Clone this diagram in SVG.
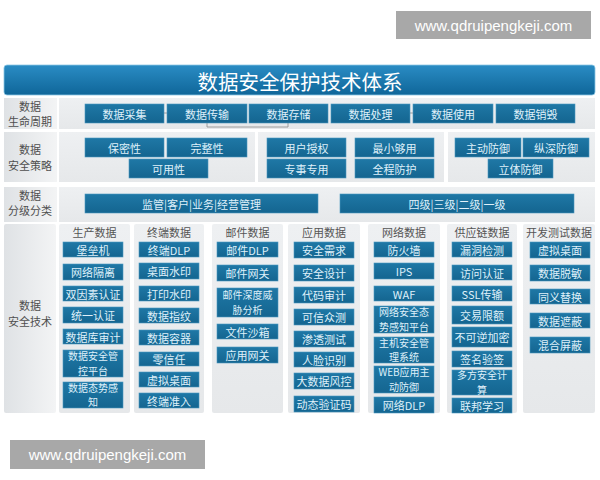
<svg xmlns="http://www.w3.org/2000/svg" width="600" height="480" viewBox="0 0 600 480">
<defs>
<linearGradient id="gTitle" x1="0" y1="0" x2="0" y2="1"><stop offset="0" stop-color="#2a8cc4"/><stop offset="1" stop-color="#0f6699"/></linearGradient>
<linearGradient id="gBox" x1="0" y1="0" x2="0" y2="1"><stop offset="0" stop-color="#1f78a6"/><stop offset="1" stop-color="#146590"/></linearGradient>
<linearGradient id="gLbl" x1="0" y1="0" x2="1" y2="0"><stop offset="0" stop-color="#dfe2e5"/><stop offset="1" stop-color="#f3f4f5"/></linearGradient>
<linearGradient id="gPanel" x1="0" y1="0" x2="0" y2="1"><stop offset="0" stop-color="#eef0f2"/><stop offset="1" stop-color="#e6e8ea"/></linearGradient>
</defs>
<style>
.box{fill:url(#gBox);stroke:#4a97c0;stroke-width:0.6}
.bt{font-family:"Noto Sans CJK SC","Noto Sans",sans-serif;font-size:11px;fill:#dff0fa;text-anchor:middle;dominant-baseline:central}
.b2{font-family:"Noto Sans CJK SC","Noto Sans",sans-serif;font-size:10px;fill:#dff0fa;text-anchor:middle}
.hd{font-family:"Noto Sans CJK SC",sans-serif;font-size:11px;fill:#555;text-anchor:middle;dominant-baseline:central}
.lb{font-family:"Noto Sans CJK SC",sans-serif;font-size:11px;fill:#4f4f4f;text-anchor:middle}
.lblbg{fill:url(#gLbl)}
.pnl{fill:url(#gPanel)}
.wm{fill:#a8a8a8}
.wmt{font-family:"Liberation Sans",Arial,sans-serif;font-size:15px;fill:#fff;text-anchor:middle;dominant-baseline:central}
.cn{fill:none;stroke:#8a8a8a;stroke-width:0.8}
</style>
<rect width="600" height="480" fill="#fff"/>

<g id="watermark-top"><rect class="wm" x="396" y="11" width="195" height="28"/><text class="wmt" x="493.5" y="25">www.qdruipengkeji.com</text></g>
<g id="watermark-bottom"><rect class="wm" x="10" y="440" width="195" height="29"/><text class="wmt" x="107.5" y="454.5">www.qdruipengkeji.com</text></g>

<g id="title"><rect x="4" y="65" width="591" height="30" rx="3" fill="url(#gTitle)" stroke="#8cc6e4" stroke-width="0.8"/><text x="300" y="80.5" font-family="Noto Sans CJK SC,sans-serif" font-size="20.5" fill="#fff" text-anchor="middle" dominant-baseline="central">数据安全保护技术体系</text></g>

<g id="row-backgrounds">
<rect class="lblbg" x="4" y="98" width="53" height="31"/><rect class="pnl" x="59" y="98" width="536" height="31"/>
<rect class="lblbg" x="4" y="132" width="53" height="50"/><rect class="pnl" x="59" y="132" width="196" height="50"/><rect class="pnl" x="258" y="132" width="186" height="50"/><rect class="pnl" x="448" y="132" width="147" height="50"/>
<rect class="lblbg" x="4" y="187" width="53" height="35"/><rect class="pnl" x="59" y="187" width="536" height="35"/>
<rect class="lblbg" x="4" y="224" width="52" height="189" rx="2"/>
<rect class="pnl" x="59" y="224" width="71" height="189" rx="2"/>
<rect class="pnl" x="134" y="224" width="70" height="189" rx="2"/>
<rect class="pnl" x="212" y="224" width="71" height="189" rx="2"/>
<rect class="pnl" x="288" y="224" width="72" height="189" rx="2"/>
<rect class="pnl" x="368" y="224" width="72" height="189" rx="2"/>
<rect class="pnl" x="447" y="224" width="70" height="189" rx="2"/>
<rect class="pnl" x="523" y="224" width="72" height="189" rx="2"/>
</g>

<g id="row-labels">
<text class="lb" x="30" y="111"><tspan x="30">数据</tspan><tspan x="30" dy="14.5">生命周期</tspan></text>
<text class="lb" x="30" y="154"><tspan x="30">数据</tspan><tspan x="30" dy="16">安全策略</tspan></text>
<text class="lb" x="30" y="200"><tspan x="30">数据</tspan><tspan x="30" dy="15">分级分类</tspan></text>
<text class="lb" x="30" y="310"><tspan x="30">数据</tspan><tspan x="30" dy="16">安全技术</tspan></text>
</g>

<g id="connectors">
<path class="cn" d="M164 113H167"/>
<path class="cn" d="M207 123V127H288V123"/>
<path class="cn" d="M410 113H413"/>
</g>

<g id="n-caiji"><rect class="box" x="85" y="104" width="79" height="19"/><text class="bt" x="124.5" y="113.5">数据采集</text></g>
<g id="n-chuanshu"><rect class="box" x="167" y="104" width="80" height="19"/><text class="bt" x="207" y="113.5">数据传输</text></g>
<g id="n-cunchu"><rect class="box" x="249" y="104" width="79" height="19"/><text class="bt" x="288.5" y="113.5">数据存储</text></g>
<g id="n-chuli"><rect class="box" x="331" y="104" width="79" height="19"/><text class="bt" x="370.5" y="113.5">数据处理</text></g>
<g id="n-shiyong"><rect class="box" x="413" y="104" width="80" height="19"/><text class="bt" x="453" y="113.5">数据使用</text></g>
<g id="n-xiaohui"><rect class="box" x="496" y="104" width="79" height="19"/><text class="bt" x="535.5" y="113.5">数据销毁</text></g>

<g id="n-baomi"><rect class="box" x="85" y="138" width="79" height="19"/><text class="bt" x="124.5" y="147.5">保密性</text></g>
<g id="n-wanzheng"><rect class="box" x="167" y="138" width="80" height="19"/><text class="bt" x="207" y="147.5">完整性</text></g>
<g id="n-keyong"><rect class="box" x="129" y="159" width="79" height="19"/><text class="bt" x="168.5" y="168.5">可用性</text></g>
<g id="n-yonghu"><rect class="box" x="267" y="138" width="79" height="19"/><text class="bt" x="306.5" y="147.5">用户授权</text></g>
<g id="n-zhuanshi"><rect class="box" x="267" y="159" width="79" height="19"/><text class="bt" x="306.5" y="168.5">专事专用</text></g>
<g id="n-zuixiao"><rect class="box" x="355" y="138" width="79" height="19"/><text class="bt" x="394.5" y="147.5">最小够用</text></g>
<g id="n-quancheng"><rect class="box" x="355" y="159" width="79" height="19"/><text class="bt" x="394.5" y="168.5">全程防护</text></g>
<g id="n-zhudong"><rect class="box" x="455" y="138" width="66" height="19"/><text class="bt" x="488" y="147.5">主动防御</text></g>
<g id="n-zongshen"><rect class="box" x="523" y="138" width="66" height="19"/><text class="bt" x="556" y="147.5">纵深防御</text></g>
<g id="n-liti"><rect class="box" x="488" y="159" width="65" height="19"/><text class="bt" x="520.5" y="168.5">立体防御</text></g>

<g id="n-jianguan"><rect class="box" x="85" y="194" width="233" height="19"/><text class="bt" x="201.5" y="203.5">监管|客户|业务|经营管理</text></g>
<g id="n-siji"><rect class="box" x="340" y="194" width="234" height="19"/><text class="bt" x="457" y="203.5">四级|三级|二级|一级</text></g>

<g id="col-headers">
<text class="hd" x="94.5" y="232">生产数据</text>
<text class="hd" x="169" y="232">终端数据</text>
<text class="hd" x="247.5" y="232">邮件数据</text>
<text class="hd" x="324" y="232">应用数据</text>
<text class="hd" x="404" y="232">网络数据</text>
<text class="hd" x="482" y="232">供应链数据</text>
<text class="hd" x="559" y="232">开发测试数据</text>
</g>

<g id="c1-1"><rect class="box" x="63" y="242" width="60" height="15"/><text class="bt" x="93" y="249.5">堡垒机</text></g>
<g id="c1-2"><rect class="box" x="63" y="264" width="60" height="16"/><text class="bt" x="93" y="272">网络隔离</text></g>
<g id="c1-3"><rect class="box" x="63" y="286" width="60" height="15"/><text class="bt" x="93" y="293.5">双因素认证</text></g>
<g id="c1-4"><rect class="box" x="63" y="307" width="60" height="16"/><text class="bt" x="93" y="315">统一认证</text></g>
<g id="c1-5"><rect class="box" x="63" y="329" width="60" height="15"/><text class="bt" x="93" y="336.5">数据库审计</text></g>
<g id="c1-6"><rect class="box" x="63" y="350" width="60" height="27"/><text class="b2" x="93" y="360"><tspan x="93">数据安全管</tspan><tspan x="93" dy="14.5">控平台</tspan></text></g>
<g id="c1-7"><rect class="box" x="63" y="382" width="60" height="26"/><text class="b2" x="93" y="391.5"><tspan x="93">数据态势感</tspan><tspan x="93" dy="14.5">知</tspan></text></g>

<g id="c2-1"><rect class="box" x="139" y="242" width="60" height="15"/><text class="bt" x="169" y="249.5">终端DLP</text></g>
<g id="c2-2"><rect class="box" x="139" y="263" width="60" height="16"/><text class="bt" x="169" y="271">桌面水印</text></g>
<g id="c2-3"><rect class="box" x="139" y="286" width="60" height="15"/><text class="bt" x="169" y="293.5">打印水印</text></g>
<g id="c2-4"><rect class="box" x="139" y="308" width="60" height="15"/><text class="bt" x="169" y="315.5">数据指纹</text></g>
<g id="c2-5"><rect class="box" x="139" y="330" width="60" height="15"/><text class="bt" x="169" y="337.5">数据容器</text></g>
<g id="c2-6"><rect class="box" x="139" y="352" width="60" height="14"/><text class="bt" x="169" y="359">零信任</text></g>
<g id="c2-7"><rect class="box" x="139" y="372" width="60" height="15"/><text class="bt" x="169" y="379.5">虚拟桌面</text></g>
<g id="c2-8"><rect class="box" x="139" y="393" width="60" height="15"/><text class="bt" x="169" y="400.5">终端准入</text></g>

<g id="c3-1"><rect class="box" x="217" y="242" width="61" height="15"/><text class="bt" x="247.5" y="249.5">邮件DLP</text></g>
<g id="c3-2"><rect class="box" x="217" y="265" width="61" height="16"/><text class="bt" x="247.5" y="273">邮件网关</text></g>
<g id="c3-3"><rect class="box" x="217" y="288" width="61" height="29"/><text class="b2" x="247.5" y="299"><tspan x="247.5">邮件深度威</tspan><tspan x="247.5" dy="14.5">胁分析</tspan></text></g>
<g id="c3-4"><rect class="box" x="217" y="324" width="61" height="15"/><text class="bt" x="247.5" y="331.5">文件沙箱</text></g>
<g id="c3-5"><rect class="box" x="217" y="347" width="61" height="16"/><text class="bt" x="247.5" y="355">应用网关</text></g>

<g id="c4-1"><rect class="box" x="294" y="242" width="60" height="16"/><text class="bt" x="324" y="250">安全需求</text></g>
<g id="c4-2"><rect class="box" x="294" y="265" width="60" height="16"/><text class="bt" x="324" y="273">安全设计</text></g>
<g id="c4-3"><rect class="box" x="294" y="287" width="60" height="16"/><text class="bt" x="324" y="295">代码审计</text></g>
<g id="c4-4"><rect class="box" x="294" y="309" width="60" height="16"/><text class="bt" x="324" y="317">可信众测</text></g>
<g id="c4-5"><rect class="box" x="294" y="331" width="60" height="16"/><text class="bt" x="324" y="339">渗透测试</text></g>
<g id="c4-6"><rect class="box" x="294" y="352" width="60" height="15"/><text class="bt" x="324" y="359.5">人脸识别</text></g>
<g id="c4-7"><rect class="box" x="294" y="373" width="60" height="16"/><text class="bt" x="324" y="381">大数据风控</text></g>
<g id="c4-8"><rect class="box" x="294" y="396" width="60" height="16"/><text class="bt" x="324" y="404">动态验证码</text></g>

<g id="c5-1"><rect class="box" x="374" y="242" width="60" height="15"/><text class="bt" x="404" y="249.5">防火墙</text></g>
<g id="c5-2"><rect class="box" x="374" y="263" width="60" height="16"/><text class="bt" x="404" y="271">IPS</text></g>
<g id="c5-3"><rect class="box" x="374" y="286" width="60" height="15"/><text class="bt" x="404" y="293.5">WAF</text></g>
<g id="c5-4"><rect class="box" x="374" y="306" width="60" height="27"/><text class="b2" x="404" y="316"><tspan x="404">网络安全态</tspan><tspan x="404" dy="14.5">势感知平台</tspan></text></g>
<g id="c5-5"><rect class="box" x="374" y="337" width="60" height="26"/><text class="b2" x="404" y="346.5"><tspan x="404">主机安全管</tspan><tspan x="404" dy="14.5">理系统</tspan></text></g>
<g id="c5-6"><rect class="box" x="374" y="366" width="60" height="27"/><text class="b2" x="404" y="376"><tspan x="404">WEB应用主</tspan><tspan x="404" dy="14.5">动防御</tspan></text></g>
<g id="c5-7"><rect class="box" x="374" y="397" width="60" height="16"/><text class="bt" x="404" y="405">网络DLP</text></g>

<g id="c6-1"><rect class="box" x="452" y="242" width="60" height="15"/><text class="bt" x="482" y="249.5">漏洞检测</text></g>
<g id="c6-2"><rect class="box" x="452" y="265" width="60" height="15"/><text class="bt" x="482" y="272.5">访问认证</text></g>
<g id="c6-3"><rect class="box" x="452" y="286" width="60" height="15"/><text class="bt" x="482" y="293.5">SSL传输</text></g>
<g id="c6-4"><rect class="box" x="452" y="306" width="60" height="18"/><text class="bt" x="482" y="315">交易限额</text></g>
<g id="c6-5"><rect class="box" x="452" y="327" width="60" height="20"/><text class="bt" x="482" y="337">不可逆加密</text></g>
<g id="c6-6"><rect class="box" x="452" y="351" width="60" height="16"/><text class="bt" x="482" y="359">签名验签</text></g>
<g id="c6-7"><rect class="box" x="452" y="370" width="60" height="25"/><text class="b2" x="482" y="379"><tspan x="482">多方安全计</tspan><tspan x="482" dy="14.5">算</tspan></text></g>
<g id="c6-8"><rect class="box" x="452" y="398" width="60" height="15"/><text class="bt" x="482" y="405.5">联邦学习</text></g>

<g id="c7-1"><rect class="box" x="530" y="242" width="60" height="16"/><text class="bt" x="560" y="250">虚拟桌面</text></g>
<g id="c7-2"><rect class="box" x="530" y="265" width="60" height="16"/><text class="bt" x="560" y="273">数据脱敏</text></g>
<g id="c7-3"><rect class="box" x="530" y="289" width="60" height="15"/><text class="bt" x="560" y="296.5">同义替换</text></g>
<g id="c7-4"><rect class="box" x="530" y="313" width="60" height="15"/><text class="bt" x="560" y="320.5">数据遮蔽</text></g>
<g id="c7-5"><rect class="box" x="530" y="337" width="60" height="16"/><text class="bt" x="560" y="345">混合屏蔽</text></g>
</svg>
